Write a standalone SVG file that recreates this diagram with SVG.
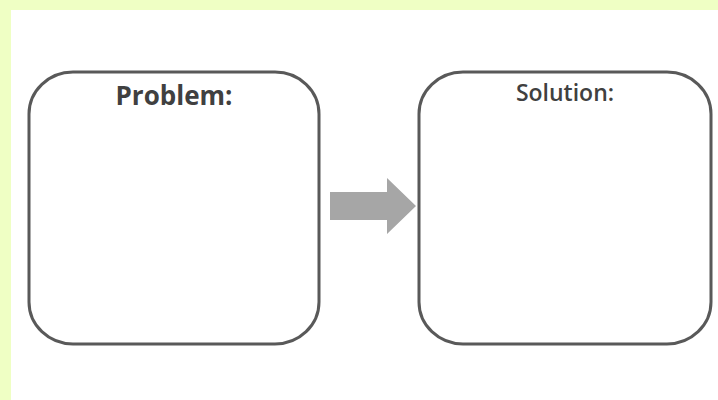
<svg xmlns="http://www.w3.org/2000/svg" width="718" height="400" viewBox="0 0 718 400">
  <style>
    .box { fill: #ffffff; stroke: #595959; stroke-width: 3; }
    .label { fill: #404040; font-family: "Open Sans", "Liberation Sans", sans-serif; text-anchor: middle; }
    .arrow { fill: #a6a6a6; }
  </style>
  <rect x="0" y="0" width="718" height="400" fill="#ffffff"/>
  <rect x="0" y="0" width="718" height="10" fill="#efffc4"/>
  <rect x="0" y="0" width="11" height="400" fill="#efffc4"/>
  <g id="problem">
    <rect class="box" x="29" y="72" width="290" height="272" rx="44" ry="42"/>
    <text class="label" x="174" y="105" font-size="26" font-weight="700">Problem:</text>
  </g>
  <g id="solution">
    <rect class="box" x="419" y="72" width="292" height="272" rx="44" ry="42"/>
    <text class="label" x="565" y="101" font-size="23" font-weight="600">Solution:</text>
  </g>
  <g id="connectors">
    <polygon class="arrow" points="330,192 387,192 387,178 416,206 387,234 387,220 330,220"/>
  </g>
</svg>
